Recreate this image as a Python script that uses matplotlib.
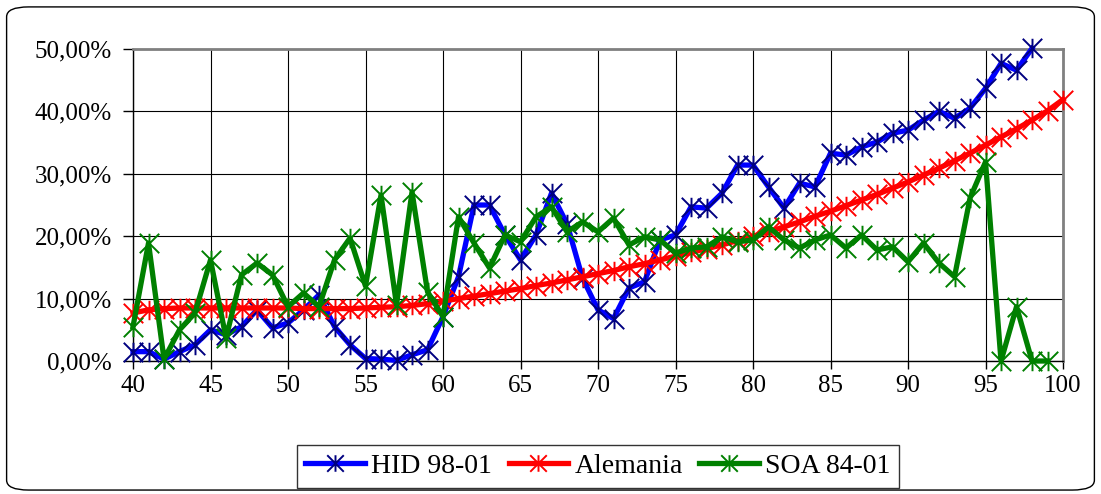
import matplotlib
matplotlib.use("Agg")
import matplotlib.pyplot as plt
import numpy as np
from matplotlib.path import Path
from matplotlib.patches import FancyBboxPatch
from matplotlib.ticker import FuncFormatter, MultipleLocator

plt.rcParams["font.family"] = ["Liberation Serif", "DejaVu Serif"]

ages = list(range(40, 101))

hid_ages = list(range(40, 99))
hid = [1.5, 1.5, 0.3, 1.5, 2.6, 5.0, 4.2, 5.5, 8.2, 5.3,
       6.1, 8.2, 10.6, 5.5, 2.6, 0.4, 0.3, 0.1, 1.0, 1.8,
       7.1, 13.5, 25.0, 25.0, 20.2, 16.2, 20.2, 26.9, 22.0, 13.3,
       8.2, 6.8, 11.7, 12.7, 19.4, 20.2, 24.7, 24.5, 26.9, 31.4,
       31.4, 27.9, 24.5, 28.5, 27.9, 33.3, 33.0, 34.3, 35.1, 36.5,
       37.0, 38.6, 40.0, 38.9, 40.5, 43.7, 47.7, 46.6, 50.1]

alemania = [7.7, 8.2, 8.4, 8.5, 8.5, 8.5, 8.5, 8.5, 8.5, 8.5,
            8.5, 8.4, 8.4, 8.4, 8.4, 8.5, 8.6, 8.7, 8.9, 9.2,
            9.6, 10.0, 10.4, 10.8, 11.2, 11.6, 12.1, 12.5, 13.0, 13.5,
            14.0, 14.5, 15.1, 15.6, 16.2, 16.8, 17.4, 18.0, 18.6, 19.3,
            20.0, 20.7, 21.5, 22.3, 23.2, 24.0, 24.9, 25.8, 26.7, 27.7,
            28.7, 29.8, 30.9, 32.1, 33.3, 34.6, 35.9, 37.2, 38.6, 40.1,
            41.9]

soa_ages = list(range(40, 100))
soa = [5.5, 18.9, 0.3, 5.0, 7.7, 16.2, 3.7, 13.8, 15.7, 13.8,
       8.7, 10.9, 8.7, 16.2, 19.7, 12.0, 26.6, 9.0, 27.1, 11.1,
       7.1, 23.1, 18.9, 14.9, 20.2, 19.1, 23.1, 24.7, 20.7, 22.3,
       20.7, 22.9, 18.6, 19.9, 19.4, 17.3, 18.1, 18.3, 19.9, 19.1,
       19.4, 21.5, 19.4, 18.1, 19.4, 20.2, 18.1, 20.2, 17.8, 18.3,
       15.9, 18.9, 15.7, 13.5, 26.1, 31.9, 0.0, 8.7, 0.0, 0.0]

# Excel-style star marker: X plus vertical bar
star = Path([(-1, -1), (1, 1), (-1, 1), (1, -1), (0, -1), (0, 1)],
            [Path.MOVETO, Path.LINETO, Path.MOVETO, Path.LINETO,
             Path.MOVETO, Path.LINETO])

fig = plt.figure(figsize=(11.01, 4.94), dpi=100)
ax = fig.add_axes([0.1208, 0.2692, 0.8447, 0.6316])

series = [
    (hid_ages, hid, "#0000FF", "#000080", "HID 98-01"),
    (ages, alemania, "#FF0000", "#FF0000", "Alemania"),
    (soa_ages, soa, "#008000", "#008000", "SOA 84-01"),
]
for xs, ys, lc, mc, name in series:
    ax.plot(xs, np.array(ys) / 100, color=lc, linewidth=3.8,
            marker=star, markersize=14, markeredgecolor=mc,
            markerfacecolor="none", markeredgewidth=1.4,
            label=name, clip_on=False, zorder=3)

ax.set_xlim(40, 100)
ax.set_ylim(0, 0.5)
ax.xaxis.set_major_locator(MultipleLocator(5))
ax.yaxis.set_major_locator(MultipleLocator(0.1))
ax.yaxis.set_major_formatter(
    FuncFormatter(lambda v, p: f"{v * 100:.2f}%".replace(".", ",")))
ax.grid(True, color="black", linewidth=0.8)
ax.set_axisbelow(True)
ax.tick_params(axis="x", labelsize=18, length=6, width=1, color="black", pad=4)
ax.tick_params(axis="y", labelsize=18, length=7, width=1, color="black", pad=8)
for s in ("top", "right"):
    ax.spines[s].set_color("#808080")
    ax.spines[s].set_linewidth(2)
for s in ("left", "bottom"):
    ax.spines[s].set_color("black")
    ax.spines[s].set_linewidth(1)

leg = fig.legend(loc="center", bbox_to_anchor=(0.5431, 0.0557), ncol=3,
                 fontsize=20, frameon=True, fancybox=False,
                 edgecolor="black", handlelength=2.15, handletextpad=0.22,
                 columnspacing=0.6, borderpad=0.3, markerscale=0.85)
leg.get_frame().set_linewidth(1)

fig.patches.append(FancyBboxPatch(
    (0.006, 0.008), 0.988, 0.978, boxstyle="round,pad=0,rounding_size=0.02",
    transform=fig.transFigure, facecolor="none", edgecolor="black",
    linewidth=1))

fig.savefig("out.png", dpi=100)
